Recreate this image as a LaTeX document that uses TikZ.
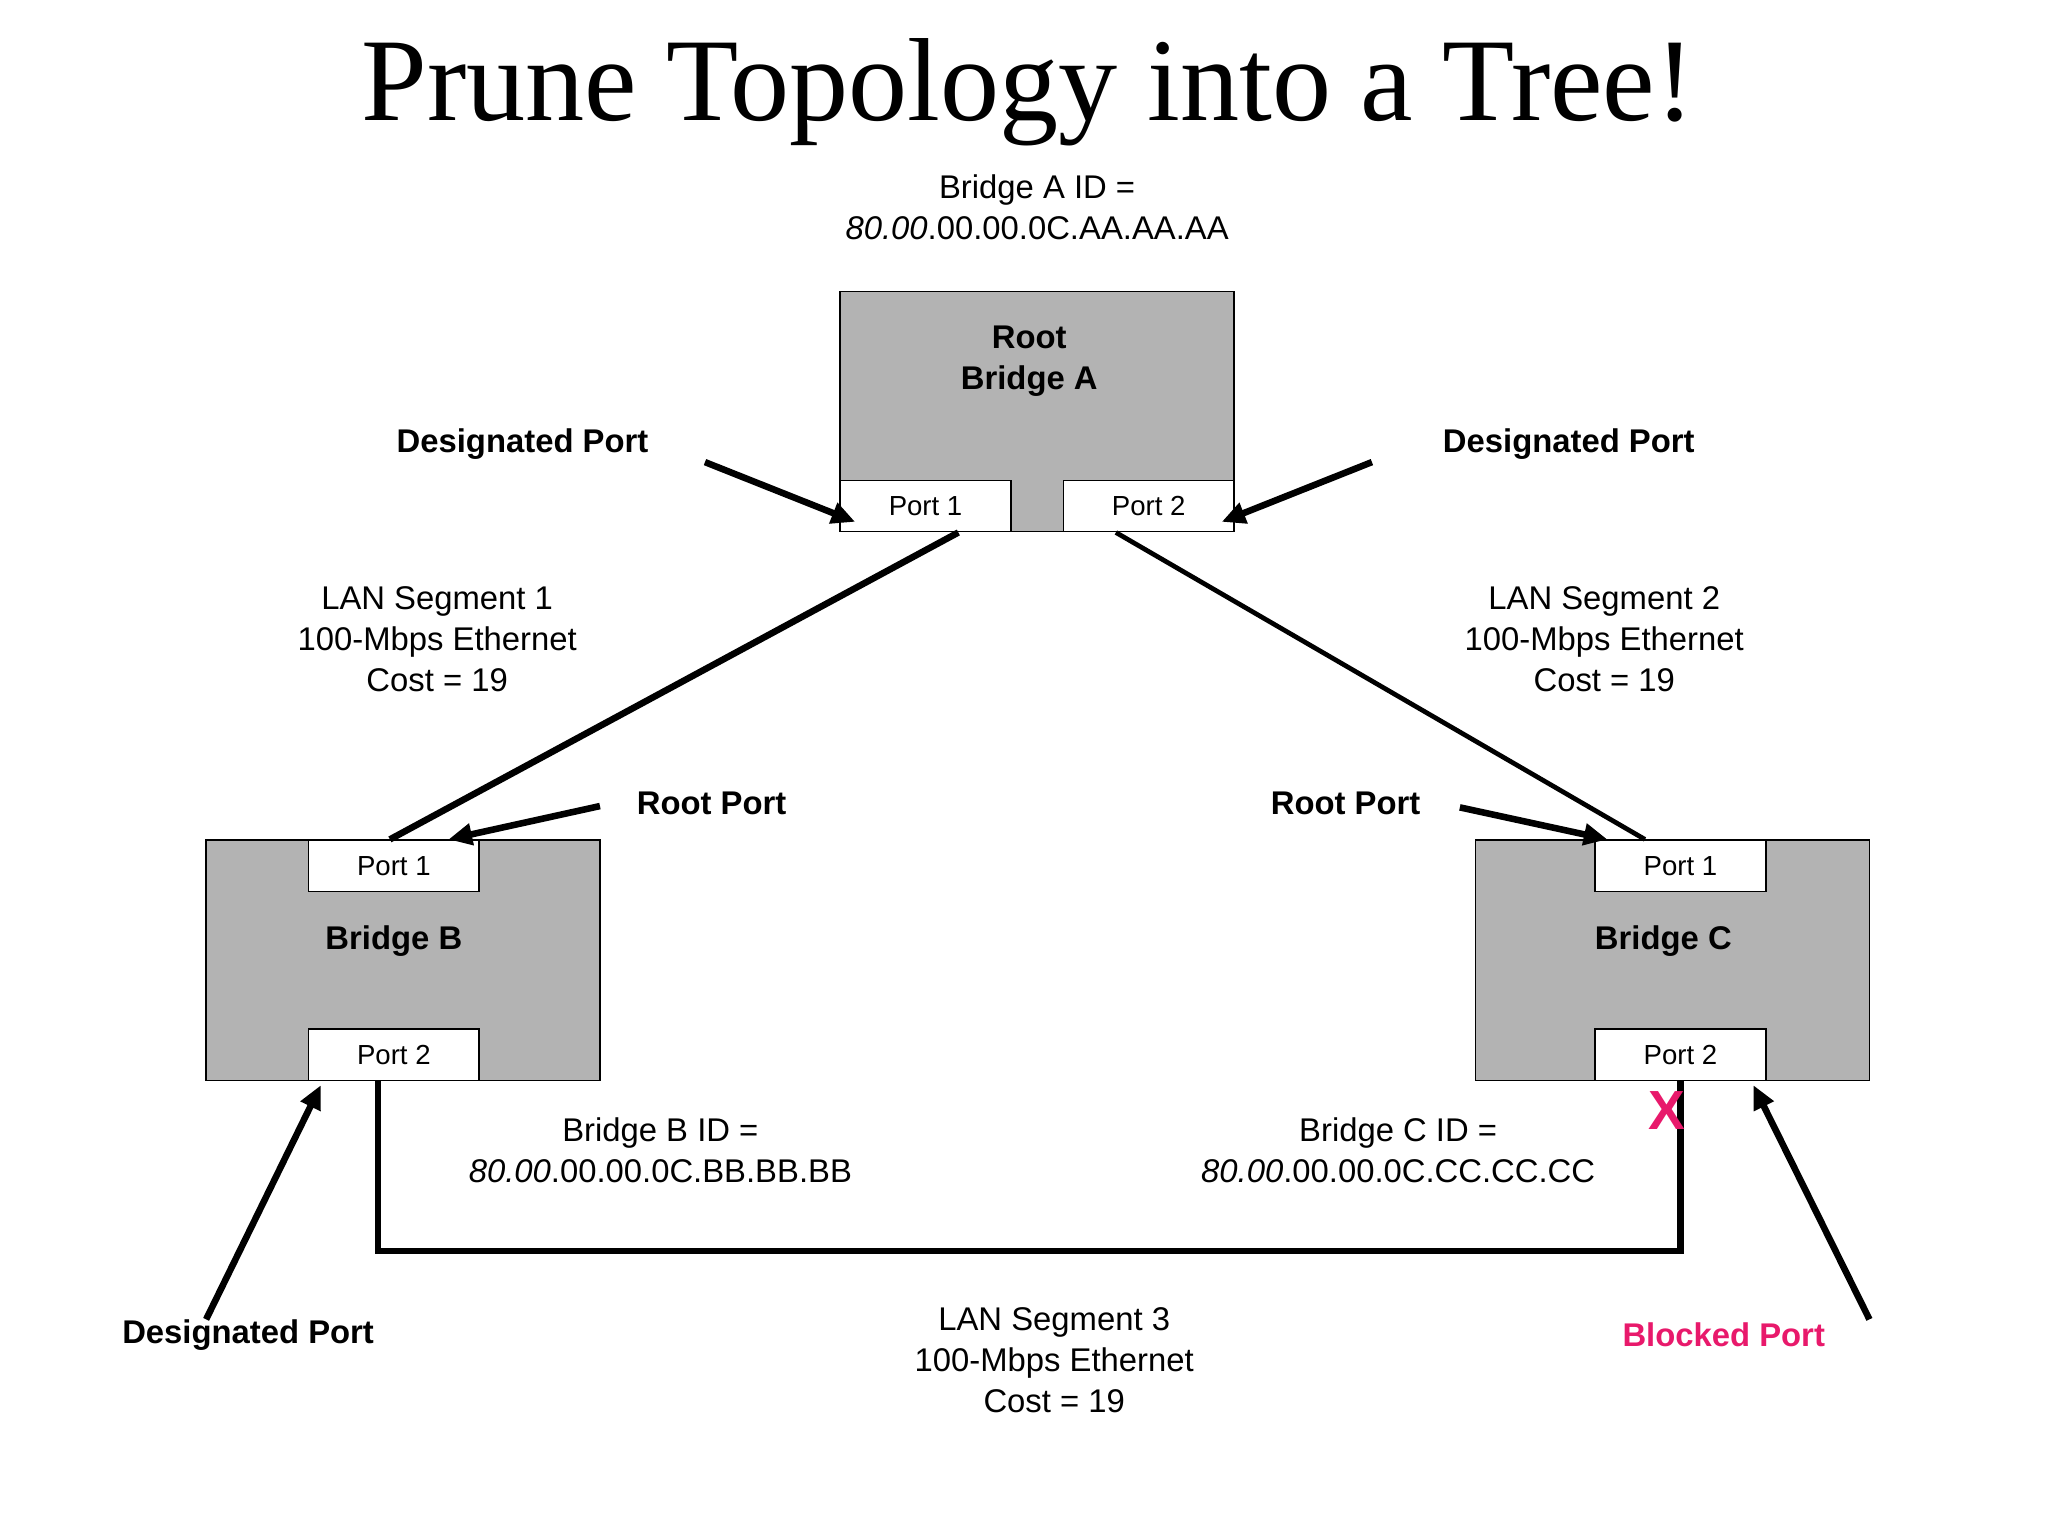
\documentclass[tikz,border=0pt]{standalone}
\usepackage{fontspec}
\setmainfont{Liberation Sans}
\newfontfamily\titlefont{Liberation Serif}
\usetikzlibrary{arrows.meta}
\definecolor{bgray}{HTML}{B3B3B3}
\definecolor{blk}{HTML}{E8196B}
\begin{document}
\begin{tikzpicture}[x=0.5pt,y=-0.5pt,
  bridge/.style={draw,fill=bgray,line width=0.6pt,minimum width=150pt,minimum height=91.5pt,inner sep=0pt},
  portbox/.style={draw,fill=white,line width=0.6pt,minimum width=65pt,minimum height=19.5pt,inner sep=0pt,font=\fontsize{10.5}{12}\selectfont},
  lbl/.style={font=\fontsize{12.5}{15.5}\selectfont,align=center,inner sep=0pt},
  blbl/.style={font=\bfseries\fontsize{12.5}{15.5}\selectfont,align=center,inner sep=0pt},
  ptr/.style={line width=2.5pt,-{Triangle[length=9pt,width=8pt]}},
  link/.style={line width=2.5pt}]
\useasboundingbox (0,0) rectangle (1560,1170);
\node[font=\titlefont\fontsize{45}{50}\selectfont] (title) at (783,70) {Prune Topology into a Tree!};
\node[lbl] (aid) at (790,158) {Bridge A ID =\\\textit{80.00}.00.00.0C.AA.AA.AA};
% bridges
\node[bridge] (A) at (790,313.5) {};
\node[blbl] (Atxt) at (784,275) {Root\\Bridge A};
\node[portbox] (A1) at (705,385.5) {Port 1};
\node[portbox] (A2) at (875,385.5) {Port 2};
\node[bridge] (B) at (307,731.5) {};
\node[blbl] (Btxt) at (300,717) {Bridge B};
\node[portbox] (B1) at (300,659.5) {Port 1};
\node[portbox] (B2) at (300,803.5) {Port 2};
\node[bridge] (C) at (1274,731.5) {};
\node[blbl] (Ctxt) at (1267,717) {Bridge C};
\node[portbox] (C1) at (1280,659.5) {Port 1};
\node[portbox] (C2) at (1280,803.5) {Port 2};
% links
\coordinate (s3a) at (288,953);
\coordinate (s3b) at (1280,953);
\draw[link] ([xshift=12.5pt]A1.south) -- ([xshift=-1.5pt]B1.north);
\draw[line width=1.8pt] ([xshift=-12.5pt]A2.south) -- ([xshift=-13.5pt]C1.north);
\draw[link] ([xshift=-6pt]B2.south) -- (s3a) -- (s3b) -- (C2.south);
% labels
\node[blbl] (dp1) at (398,338) {Designated Port};
\node[blbl] (dp2) at (1195,338) {Designated Port};
\node[lbl] (seg1) at (333,487) {LAN Segment 1\\100-Mbps Ethernet\\Cost = 19};
\node[lbl] (seg2) at (1222,487) {LAN Segment 2\\100-Mbps Ethernet\\Cost = 19};
\node[blbl] (rp1) at (542,612) {Root Port};
\node[blbl] (rp2) at (1025,612) {Root Port};
\node[lbl] (bid) at (503,876) {Bridge B ID =\\\textit{80.00}.00.00.0C.BB.BB.BB};
\node[lbl] (cid) at (1065,876) {Bridge C ID =\\\textit{80.00}.00.00.0C.CC.CC.CC};
\node[lbl] (seg3) at (803,1036) {LAN Segment 3\\100-Mbps Ethernet\\Cost = 19};
\node[blbl] (dp3) at (189,1017) {Designated Port};
\node[blbl,text=blk] (bp) at (1313,1017) {Blocked Port};
\node[font=\bfseries\fontsize{21}{22}\selectfont,text=blk,inner sep=0pt] (X) at (1270,846) {X};
% pointers
\coordinate (p1) at (537,352); \coordinate (p2) at (1045,352);
\coordinate (p3) at (457,614); \coordinate (p4) at (1112,615);
\coordinate (p5) at (157,1005); \coordinate (p6) at (1424,1005);
\draw[ptr] (p1) -- ([xshift=6pt,yshift=-6pt]A1.west);
\draw[ptr] (p2) -- ([xshift=-5pt,yshift=-6pt]A2.east);
\draw[ptr] (p3) -- ([xshift=-12pt]B1.north east);
\draw[ptr] (p4) -- ([xshift=5pt]C1.north west);
\draw[ptr] (p5) -- ([xshift=5pt,yshift=-1.5pt]B2.south west);
\draw[ptr] (p6) -- ([xshift=-5pt,yshift=-1.5pt]C2.south east);
\end{tikzpicture}
\end{document}
